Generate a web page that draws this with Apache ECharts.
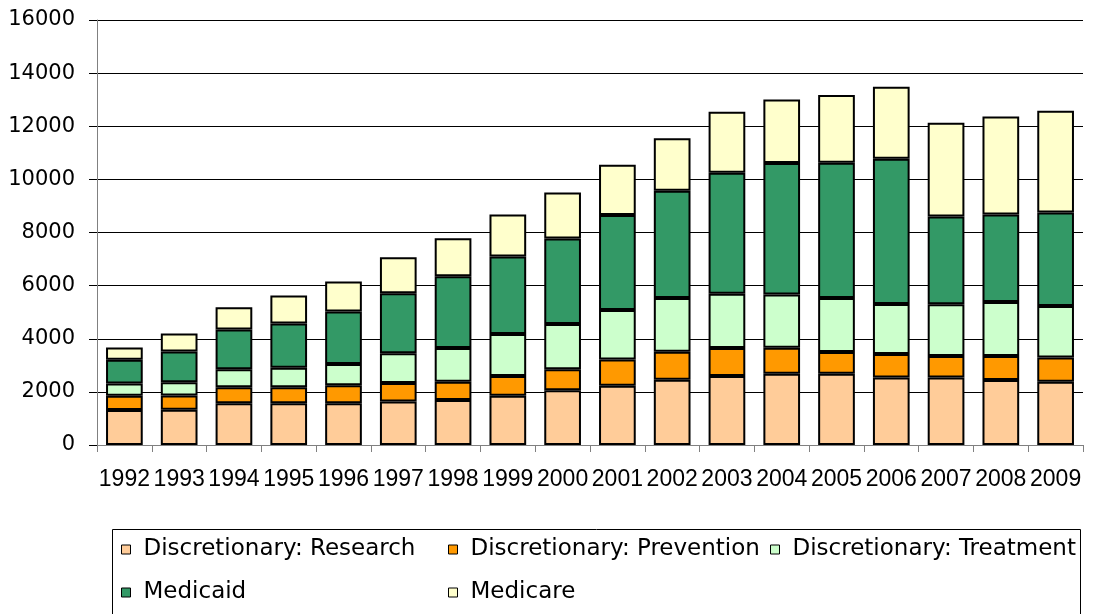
<!DOCTYPE html>
<html>
<head>
<meta charset="utf-8">
<script src="https://cdn.jsdelivr.net/npm/echarts@6/dist/echarts.min.js"></script>
<style>
html,body{margin:0;padding:0;background:#fff;}
#c{width:1099px;height:614px;}
</style>
</head>
<body>
<div id="c"></div>
<script>
const years = ['1992','1993','1994','1995','1996','1997','1998','1999','2000','2001','2002','2003','2004','2005','2006','2007','2008','2009'];
const research   = [1320,1330,1570,1570,1570,1640,1690,1850,2060,2230,2460,2600,2680,2680,2540,2540,2450,2380];
const prevention = [530, 530, 600, 600, 680, 690, 690, 750, 790, 990,1050,1050, 980, 820, 890, 810, 900, 910];
const treatment  = [465, 500, 680, 740, 800,1120,1270,1575,1710,1860,2025,2040,2010,2030,1880,1950,2030,1940];
const medicaid   = [895,1160,1500,1660,1980,2260,2700,2925,3210,3575,4040,4560,4950,5100,5470,3300,3300,3520];
const medicare   = [465, 680, 840,1060,1130,1360,1430,1575,1740,1900,1975,2300,2390,2550,2710,3530,3690,3830];
const yTicks = [0,2000,4000,6000,8000,10000,12000,14000,16000];

const names = ['Discretionary: Research','Discretionary: Prevention','Discretionary: Treatment','Medicaid','Medicare'];
const colors = ['#FFCC99','#FF9900','#CCFFCC','#339966','#FFFFCC'];
const datas = [research, prevention, treatment, medicaid, medicare];

const font = 'Liberation Sans, Arial, sans-serif';
const wideFont = 'DejaVu Sans, sans-serif';
const chart = echarts.init(document.getElementById('c'));
const legendCommon = {
  orient: 'vertical', itemWidth: 9, itemHeight: 9, itemGap: 20, padding: 0,
  textStyle: {fontFamily: wideFont, fontSize: 23, color: '#000', padding: [0,0,0,8]},
  icon: 'rect', selectedMode: false,
  itemStyle: {borderColor: '#000', borderWidth: 1}
};
chart.setOption({
  animation: false,
  color: colors,
  grid: {left: 97, right: 16, top: 20, bottom: 169, containLabel: false},
  legend: [
    Object.assign({}, legendCommon, {left: 121, top: 538, data: [names[0], names[3]]}),
    Object.assign({}, legendCommon, {left: 448, top: 538, data: [names[1], names[4]]}),
    Object.assign({}, legendCommon, {left: 770, top: 538, data: [names[2]]})
  ],
  graphic: [{
    type: 'rect', left: 110, top: 527,
    shape: {width: 968, height: 100},
    style: {fill: 'none', stroke: '#000', lineWidth: 1}
  }],
  xAxis: {
    type: 'category', data: years,
    axisLine: {lineStyle: {color: '#808080', width: 1}},
    axisTick: {show: true, length: 7, lineStyle: {color: '#808080'}},
    axisLabel: {fontFamily: font, fontSize: 23, color: '#000', margin: 23, interval: 0},
    splitLine: {show: false}
  },
  yAxis: {
    type: 'value', min: 0, max: 16000, interval: 2000,
    axisLine: {show: true, lineStyle: {color: '#808080', width: 1}},
    axisTick: {show: true, length: 8, lineStyle: {color: '#000'}},
    axisLabel: {fontFamily: wideFont, fontSize: 21, color: '#000', margin: 22,
      formatter: v => yTicks.indexOf(v) >= 0 ? String(v) : ''},
    splitLine: {show: true, lineStyle: {color: '#000', width: 1}}
  },
  series: datas.map((d, i) => ({
    name: names[i], type: 'bar', stack: 'total', data: d,
    barCategoryGap: '33%',
    itemStyle: {color: colors[i], borderColor: '#000', borderWidth: 2}
  }))
});
</script>
</body>
</html>
